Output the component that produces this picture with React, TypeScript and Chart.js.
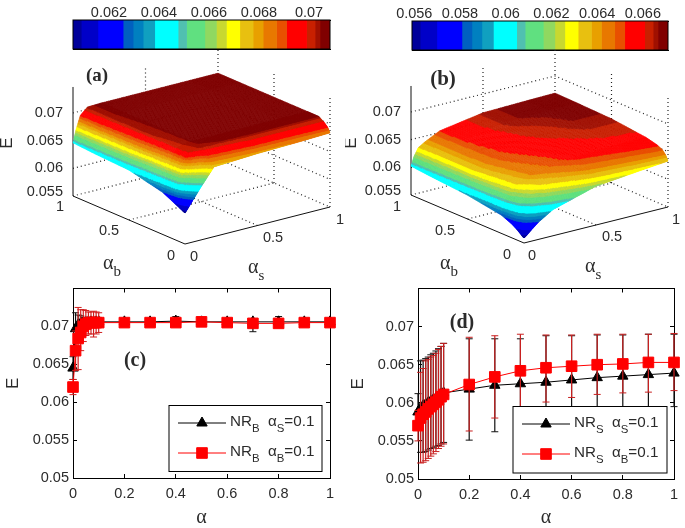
import React, { useEffect, useRef } from "react";
import { Chart, registerables } from "chart.js";
import { drawPoint } from "chart.js/helpers";

Chart.register(...registerables);

const FONT = "'Liberation Sans', Arial, sans-serif";
const SERIF = "'Liberation Serif', serif";
const INK = "#2b2b2b";
const TICK_SIZE = 14.5;

// ---- colour bands shared by both colour bars (top edge as share of the bar, colour)
const bandEnds = [0.032, 0.097, 0.195, 0.234, 0.273, 0.318, 0.409, 0.442, 0.513, 0.558, 0.597, 0.649, 0.701, 0.74, 0.792, 0.831, 0.909, 0.942, 0.961, 1];
const bandColors = ["#00009a", "#0000c8", "#0000ff", "#0060c0", "#0080c0", "#10a0c0", "#00ffff", "#50c0b0", "#60e080", "#90d860", "#c8d830", "#ffff00", "#e8c010", "#e8a000", "#e87800", "#e85000", "#ff0000", "#c82000", "#a01000", "#800000"];

const colorLimitsA = [0.06056, 0.07084];
const colorLimitsB = [0.0559, 0.0671];
const colorTicksA = [0.062, 0.064, 0.066, 0.068, 0.07];
const colorTicksB = [0.056, 0.058, 0.06, 0.062, 0.064, 0.066];

// ---- surfaces: rows are alpha_b nodes, columns are alpha_s nodes
const gridNodes = [0, 0.02, 0.05, 0.1, 0.2, 0.5, 0.8, 1];
const surfaceA = [
  [0.0606, 0.0613, 0.0624, 0.0642, 0.0676, 0.068, 0.0682, 0.0684],
  [0.0608, 0.0617, 0.063, 0.065, 0.068, 0.0688, 0.069, 0.0692],
  [0.0611, 0.0624, 0.0642, 0.0665, 0.069, 0.0698, 0.0698, 0.0698],
  [0.0616, 0.064, 0.067, 0.0699, 0.0704, 0.0705, 0.0705, 0.0705],
  [0.0626, 0.0646, 0.0675, 0.0701, 0.0705, 0.0705, 0.0705, 0.0705],
  [0.064, 0.066, 0.0685, 0.0703, 0.0705, 0.0705, 0.0705, 0.0705],
  [0.0643, 0.0665, 0.069, 0.0704, 0.0705, 0.0705, 0.0705, 0.0705],
  [0.0646, 0.0668, 0.0692, 0.0704, 0.0705, 0.0705, 0.0705, 0.0705],
];
const surfaceB = [
  [0.0559, 0.0563, 0.057, 0.0581, 0.0597, 0.062, 0.0628, 0.0633],
  [0.0562, 0.057, 0.058, 0.0592, 0.0608, 0.063, 0.0638, 0.0642],
  [0.0567, 0.058, 0.0592, 0.0605, 0.0618, 0.0638, 0.0645, 0.0649],
  [0.0574, 0.0592, 0.0607, 0.0618, 0.063, 0.0646, 0.0651, 0.0654],
  [0.0583, 0.0603, 0.062, 0.0632, 0.0642, 0.0654, 0.0658, 0.0659],
  [0.0593, 0.0612, 0.063, 0.064, 0.065, 0.066, 0.0666, 0.0666],
  [0.0598, 0.0616, 0.063, 0.064, 0.0652, 0.0666, 0.0668, 0.0668],
  [0.0602, 0.0618, 0.0632, 0.064, 0.0653, 0.0666, 0.0668, 0.0669],
];
const alphaTicks = [0, 0.5, 1];
const energyTicks3d = [0.055, 0.06, 0.065, 0.07];

// ---- bottom panels
const alphaValues = [0, 0.01, 0.02, 0.03, 0.04, 0.05, 0.06, 0.07, 0.08, 0.09, 0.1, 0.2, 0.3, 0.4, 0.5, 0.6, 0.7, 0.8, 0.9, 1];
const xTicks = [0, 0.2, 0.4, 0.6, 0.8, 1];
const yTicks = [0.05, 0.055, 0.06, 0.065, 0.07];

const cBlack = [0.0645, 0.0697, 0.0702, 0.0704, 0.0705, 0.0705, 0.0706, 0.0706, 0.0706, 0.0706, 0.0706, 0.0706, 0.0706, 0.0707, 0.0706, 0.0706, 0.0706, 0.0706, 0.0706, 0.0706];
const cBlackLow = [0.063, 0.0672, 0.069, 0.0695, 0.07, 0.07, 0.0702, 0.0702, 0.0702, 0.0702, 0.0702, 0.0704, 0.0704, 0.0704, 0.0704, 0.0704, 0.0693, 0.0702, 0.0704, 0.0704];
const cBlackHigh = [0.066, 0.0718, 0.0715, 0.0714, 0.0712, 0.0711, 0.0711, 0.071, 0.071, 0.071, 0.071, 0.0709, 0.0709, 0.0713, 0.0709, 0.0709, 0.0709, 0.0713, 0.0709, 0.0709];
const cRed = [0.062, 0.0668, 0.0684, 0.0692, 0.07, 0.0703, 0.0705, 0.0705, 0.0705, 0.0705, 0.0705, 0.0705, 0.0705, 0.0705, 0.0706, 0.0705, 0.0704, 0.0704, 0.0705, 0.0705];
const cRedLow = [0.061, 0.0642, 0.0643, 0.0668, 0.068, 0.0688, 0.069, 0.069, 0.0686, 0.069, 0.0692, 0.0703, 0.0703, 0.0703, 0.0704, 0.0704, 0.0702, 0.0702, 0.0704, 0.0704];
const cRedHigh = [0.063, 0.0694, 0.0725, 0.0722, 0.0722, 0.0721, 0.0719, 0.0719, 0.072, 0.0719, 0.0718, 0.0708, 0.0707, 0.0707, 0.0708, 0.0707, 0.0706, 0.0706, 0.0706, 0.0706];

const dBlack = [0.0588, 0.0593, 0.0596, 0.0598, 0.06, 0.0602, 0.0604, 0.0606, 0.0608, 0.0611, 0.0613, 0.0618, 0.0623, 0.0625, 0.0627, 0.063, 0.0633, 0.0635, 0.0637, 0.0639];
const dBlackLow = [0.0565, 0.0535, 0.0535, 0.0536, 0.0538, 0.054, 0.0541, 0.0543, 0.0544, 0.0546, 0.0548, 0.0551, 0.0562, 0.0572, 0.0578, 0.0583, 0.0586, 0.059, 0.0592, 0.0595];
const dBlackHigh = [0.0612, 0.0655, 0.0656, 0.0658, 0.066, 0.0663, 0.0665, 0.0668, 0.0671, 0.0674, 0.0678, 0.0684, 0.0684, 0.0684, 0.0688, 0.0688, 0.0689, 0.0689, 0.069, 0.069];
const dRed = [0.057, 0.058, 0.0585, 0.0588, 0.0592, 0.0595, 0.0598, 0.0601, 0.0604, 0.0608, 0.0611, 0.0624, 0.0634, 0.0642, 0.0646, 0.0648, 0.065, 0.0651, 0.0653, 0.0653];
const dRedLow = [0.055, 0.0521, 0.0522, 0.0524, 0.0527, 0.053, 0.0533, 0.0536, 0.054, 0.0543, 0.0546, 0.0563, 0.058, 0.0592, 0.0601, 0.0607, 0.0611, 0.0613, 0.0614, 0.0616];
const dRedHigh = [0.059, 0.064, 0.0645, 0.0655, 0.0657, 0.066, 0.0662, 0.0665, 0.067, 0.0674, 0.0678, 0.0686, 0.0688, 0.069, 0.0689, 0.0689, 0.069, 0.069, 0.069, 0.0691];

type Run = { t: string; sub?: boolean };

function drawRuns(ctx: CanvasRenderingContext2D, runs: Run[], x: number, y: number, size: number, family = FONT) {
  let cx = x;
  ctx.textAlign = "left";
  ctx.textBaseline = "middle";
  ctx.fillStyle = INK;
  for (const r of runs) {
    const s = r.sub ? size * 0.75 : size;
    ctx.font = `${s}px ${family}`;
    ctx.fillText(r.t, cx, r.sub ? y + size * 0.42 : y);
    cx += ctx.measureText(r.t).width;
  }
}

function label(ctx: CanvasRenderingContext2D, text: string, x: number, y: number, font: string, align: CanvasTextAlign = "center", rot = 0) {
  ctx.save();
  ctx.translate(x, y);
  ctx.rotate(rot);
  ctx.font = font;
  ctx.fillStyle = INK;
  ctx.textAlign = align;
  ctx.textBaseline = "middle";
  ctx.fillText(text, 0, 0);
  ctx.restore();
}

function bandColor(e: number, lim: number[]) {
  const f = (e - lim[0]) / (lim[1] - lim[0]);
  for (let i = 0; i < bandEnds.length; i++) if (f <= bandEnds[i]) return bandColors[i];
  return bandColors[bandColors.length - 1];
}

const noOverhang = (s: any) => {
  s.paddingTop = 0;
  s.paddingBottom = 0;
  s.paddingLeft = 0;
  s.paddingRight = 0;
};

function colorBarConfig(lim: number[], ticks: number[], box: { l: number; r: number; t: number; b: number; w: number; h: number }) {
  const edges = [lim[0], ...bandEnds.map((f) => lim[0] + f * (lim[1] - lim[0]))];
  const inward = (pos: "top" | "bottom", showLabels: boolean, size: number) => ({
    type: "linear",
    position: pos,
    min: lim[0],
    max: lim[1],
    afterBuildTicks: (s: any) => { s.ticks = ticks.map((value) => ({ value })); },
    afterFit: (s: any) => { s.height = size; noOverhang(s); },
    border: { display: true, color: "#000", width: 1 },
    grid: { drawOnChartArea: false, drawTicks: true, tickLength: -3, color: "#000" },
    ticks: { display: showLabels, color: INK, font: { family: FONT, size: TICK_SIZE }, padding: 1, maxRotation: 0, callback: (v: any) => String(+(+v).toFixed(3)) },
  });
  return {
    type: "bar",
    data: {
      labels: ["E"],
      datasets: bandColors.map((c, i) => ({
        data: [[edges[i], edges[i + 1]]],
        backgroundColor: c,
        borderWidth: 0,
        grouped: false,
        barPercentage: 1,
        categoryPercentage: 1,
        xAxisID: "x",
      })),
    },
    options: {
      indexAxis: "y",
      animation: false,
      responsive: false,
      devicePixelRatio: 1,
      layout: { padding: { left: box.l, right: box.w - box.r, top: 0, bottom: box.h - box.b } },
      plugins: { legend: { display: false }, tooltip: { enabled: false } },
      scales: {
        x: inward("top", true, box.t),
        x2: inward("bottom", false, 0),
        y: { display: false },
      },
    },
    plugins: [
      {
        id: "barFrame",
        afterDraw(chart: any) {
          const a = chart.chartArea;
          chart.ctx.strokeStyle = "#000";
          chart.ctx.lineWidth = 1;
          chart.ctx.strokeRect(a.left, a.top, a.right - a.left, a.bottom - a.top);
        },
      },
    ],
  };
}

type Frame = {
  origin: number[];
  sVec: number[];
  bVec: number[];
  zScale: number;
  zMin: number;
  zMax: number;
  left: number;
  top: number;
  w: number;
  h: number;
  table: number[][];
  lim: number[];
  tag: string;
  tagPos: number[];
  tagSize: number;
  ePos: number[];
  alphaBPos: number[];
  alphaSPos: number[];
  sLabels: number[][];
  bLabels: number[][];
  zLabelX: number;
};

function surfaceConfig(f: Frame) {
  const project = (s: number, b: number, e: number) => ({
    x: f.origin[0] + s * f.sVec[0] + b * f.bVec[0],
    y: f.origin[1] + s * f.sVec[1] + b * f.bVec[1] - (e - f.zMin) * f.zScale,
  });
  const dotted = (pts: number[][]) => ({
    data: pts.map((p) => project(p[0], p[1], p[2])),
    showLine: true,
    borderColor: "#222",
    borderWidth: 1.2,
    borderDash: [1, 3],
    pointRadius: 0,
    clip: false,
  });
  const solid = (pts: number[][]) => ({ ...dotted(pts), borderDash: [], borderWidth: 1, borderColor: "#111" });
  const { zMin, zMax } = f;
  const lines: any[] = [];
  for (const e of energyTicks3d) {
    lines.push(dotted([[0, 1, e], [1, 1, e], [1, 0, e]]));
  }
  lines.push(dotted([[1, 1, zMin], [1, 1, zMax]]));
  lines.push(dotted([[0.5, 1, zMin], [0.5, 1, zMax]]));
  lines.push(dotted([[1, 0.5, zMin], [1, 0.5, zMax]]));
  lines.push(dotted([[1, 0, zMin], [1, 0, zMax]]));
  lines.push(dotted([[0.5, 0, zMin], [0.5, 1, zMin]]));
  lines.push(dotted([[0, 0.5, zMin], [1, 0.5, zMin]]));
  lines.push(solid([[0, 0, zMin], [1, 0, zMin]]));
  lines.push(solid([[0, 0, zMin], [0, 1, zMin]]));
  lines.push(solid([[0, 1, zMin], [0, 1, zMax]]));
  const nodes: { x: number; y: number }[] = [];
  f.table.forEach((row, j) => row.forEach((e, i) => nodes.push(project(gridNodes[i], gridNodes[j], e))));
  lines.push({ data: nodes, pointRadius: 0, showLine: false, label: "surface" });

  const surfacePlugin = {
    id: "surface3d",
    afterDatasetsDraw(chart: any) {
      const { ctx } = chart;
      const X = chart.scales.x;
      const Y = chart.scales.y;
      const px = (s: number, b: number, e: number) => {
        const p = project(s, b, e);
        return [X.getPixelForValue(p.x), Y.getPixelForValue(p.y)];
      };
      const cuts = 20;
      ctx.save();
      for (let j = gridNodes.length - 2; j >= 0; j--) {
        for (let i = gridNodes.length - 2; i >= 0; i--) {
          const e00 = f.table[j][i];
          const e10 = f.table[j][i + 1];
          const e01 = f.table[j + 1][i];
          const e11 = f.table[j + 1][i + 1];
          const at = (u: number, v: number) => e00 * (1 - u) * (1 - v) + e10 * u * (1 - v) + e01 * (1 - u) * v + e11 * u * v;
          const sAt = (u: number) => gridNodes[i] + u * (gridNodes[i + 1] - gridNodes[i]);
          const bAt = (v: number) => gridNodes[j] + v * (gridNodes[j + 1] - gridNodes[j]);
          for (let m = cuts - 1; m >= 0; m--) {
            for (let n = cuts - 1; n >= 0; n--) {
              const u0 = n / cuts, u1 = (n + 1) / cuts, v0 = m / cuts, v1 = (m + 1) / cuts;
              const corners = [
                px(sAt(u0), bAt(v0), at(u0, v0)),
                px(sAt(u1), bAt(v0), at(u1, v0)),
                px(sAt(u1), bAt(v1), at(u1, v1)),
                px(sAt(u0), bAt(v1), at(u0, v1)),
              ];
              const col = bandColor(at((u0 + u1) / 2, (v0 + v1) / 2), f.lim);
              ctx.beginPath();
              corners.forEach((c, k) => (k ? ctx.lineTo(c[0], c[1]) : ctx.moveTo(c[0], c[1])));
              ctx.closePath();
              ctx.fillStyle = col;
              ctx.strokeStyle = col;
              ctx.lineWidth = 0.5;
              ctx.fill();
              ctx.stroke();
            }
          }
        }
      }
      ctx.restore();
    },
    afterDraw(chart: any) {
      const { ctx } = chart;
      const X = chart.scales.x;
      const Y = chart.scales.y;
      const gx = (v: number) => X.getPixelForValue(v);
      const gy = (v: number) => Y.getPixelForValue(v);
      const tick = `${TICK_SIZE}px ${FONT}`;
      for (const e of energyTicks3d) {
        const p = project(0, 1, e);
        label(ctx, String(e), gx(f.zLabelX), gy(p.y - (e === zMin ? 4 : 0)), tick, "right");
      }
      alphaTicks.forEach((a, i) => {
        label(ctx, String(a), gx(f.sLabels[i][0]), gy(f.sLabels[i][1]), tick);
        label(ctx, String(a), gx(f.bLabels[i][0]), gy(f.bLabels[i][1]), tick);
      });
      label(ctx, "E", gx(f.ePos[0]), gy(f.ePos[1]), `17px ${FONT}`, "center", -Math.PI / 2);
      drawRuns(ctx, [{ t: "α" }, { t: "b", sub: true }], gx(f.alphaBPos[0]), gy(f.alphaBPos[1]), 20, SERIF);
      drawRuns(ctx, [{ t: "α" }, { t: "s", sub: true }], gx(f.alphaSPos[0]), gy(f.alphaSPos[1]), 20, SERIF);
      label(ctx, f.tag, gx(f.tagPos[0]), gy(f.tagPos[1]), `bold ${f.tagSize}px ${SERIF}`);
    },
  };

  return {
    type: "scatter",
    data: { datasets: lines },
    options: {
      animation: false,
      responsive: false,
      devicePixelRatio: 1,
      layout: { padding: 0 },
      plugins: { legend: { display: false }, tooltip: { enabled: false } },
      scales: {
        x: { type: "linear", display: false, min: f.left, max: f.left + f.w },
        y: { type: "linear", display: false, reverse: true, min: f.top, max: f.top + f.h },
      },
    },
    plugins: [surfacePlugin],
  };
}

type Series = { mean: number[]; low: number[]; high: number[]; line: string; whisker: string; marker: string; style: string; radius: number; name: Run[] };

function seriesSets(s: Series, order: number) {
  const whisker: any[] = [];
  alphaValues.forEach((x, i) => {
    whisker.push({ x, y: s.low[i] }, { x, y: s.high[i] }, { x, y: null });
  });
  return [
    {
      label: "error",
      data: whisker,
      showLine: true,
      spanGaps: false,
      borderColor: s.whisker,
      borderWidth: 1.2,
      pointStyle: "line",
      pointRadius: 3.5,
      pointBorderColor: s.whisker,
      pointBorderWidth: 1,
      clip: false,
      order: order + 1,
    },
    {
      label: "mean",
      data: alphaValues.map((x, i) => ({ x, y: s.mean[i] })),
      showLine: true,
      borderColor: s.line,
      borderWidth: 1,
      pointStyle: s.style,
      pointRadius: s.radius,
      pointBackgroundColor: s.marker,
      pointBorderColor: s.marker,
      pointBorderWidth: 1,
      clip: false,
      order,
    },
  ];
}

function lineConfig(box: { w: number; h: number; l: number; r: number; t: number; b: number }, series: Series[], tag: string, tagPos: number[], legendBox: number[]) {
  const inward = {
    border: { display: true, color: "#000", width: 1 },
    grid: { drawOnChartArea: false, drawTicks: true, tickLength: -4, color: "#000" },
  };
  const fmt = (v: any) => String(+(+v).toFixed(3));
  return {
    type: "scatter",
    data: { datasets: [...seriesSets(series[0], 3), ...seriesSets(series[1], 1)] },
    options: {
      animation: false,
      responsive: false,
      devicePixelRatio: 1,
      layout: { padding: { left: 0, right: box.w - box.r, top: box.t, bottom: 0 } },
      plugins: { legend: { display: false }, tooltip: { enabled: false } },
      scales: {
        x: {
          ...inward,
          type: "linear",
          position: "bottom",
          min: 0,
          max: 1,
          afterBuildTicks: (s: any) => { s.ticks = xTicks.map((value) => ({ value })); },
          afterFit: (s: any) => { s.height = box.h - box.b; noOverhang(s); },
          ticks: { color: INK, font: { family: FONT, size: TICK_SIZE }, padding: 11, maxRotation: 0, callback: fmt },
          title: { display: true, text: "α", color: INK, font: { family: SERIF, size: 20 }, padding: { top: 0, bottom: -2 } },
        },
        x2: {
          ...inward,
          type: "linear",
          position: "top",
          min: 0,
          max: 1,
          afterBuildTicks: (s: any) => { s.ticks = xTicks.map((value) => ({ value })); },
          afterFit: (s: any) => { s.height = 0; noOverhang(s); },
          ticks: { display: false },
        },
        y: {
          ...inward,
          type: "linear",
          position: "left",
          min: 0.05,
          max: 0.075,
          afterBuildTicks: (s: any) => { s.ticks = yTicks.map((value) => ({ value })); },
          afterFit: (s: any) => { s.width = box.l; noOverhang(s); },
          ticks: { color: INK, font: { family: FONT, size: TICK_SIZE }, padding: 8, callback: fmt },
          title: { display: true, text: "E", color: INK, font: { family: FONT, size: 17 }, padding: { top: 3, bottom: 0 } },
        },
        y2: {
          ...inward,
          type: "linear",
          position: "right",
          min: 0.05,
          max: 0.075,
          afterBuildTicks: (s: any) => { s.ticks = yTicks.map((value) => ({ value })); },
          afterFit: (s: any) => { s.width = 0; noOverhang(s); },
          ticks: { display: false },
        },
      },
    },
    plugins: [
      {
        id: "figureLegend",
        afterDraw(chart: any) {
          const { ctx } = chart;
          const [x0, y0, x1, y1] = legendBox;
          ctx.save();
          ctx.fillStyle = "#fff";
          ctx.fillRect(x0, y0, x1 - x0, y1 - y0);
          ctx.strokeStyle = "#000";
          ctx.lineWidth = 1;
          ctx.strokeRect(x0, y0, x1 - x0, y1 - y0);
          series.forEach((s, i) => {
            const yy = y0 + 17.5 + i * 30;
            ctx.beginPath();
            ctx.moveTo(x0 + 9, yy);
            ctx.lineTo(x0 + 57, yy);
            ctx.strokeStyle = s.line;
            ctx.lineWidth = 1;
            ctx.stroke();
            ctx.fillStyle = s.marker;
            ctx.strokeStyle = s.marker;
            drawPoint(ctx, { pointStyle: s.style, radius: s.radius, rotation: 0, borderWidth: 1 } as any, x0 + 33, yy);
            drawRuns(ctx, s.name, x0 + 61, yy - 1, 15.2);
          });
          ctx.restore();
          label(ctx, tag, tagPos[0], tagPos[1], `bold 20px ${SERIF}`);
        },
      },
    ],
  };
}

const RED = "#ff0000";
const nameRuns = (a: string, b: string): Run[] => [
  { t: "NR" }, { t: a, sub: true }, { t: "  α" }, { t: b, sub: true }, { t: "=0.1" },
];

const panels = [
  { left: 0, top: 0, w: 345, h: 55, make: () => colorBarConfig(colorLimitsA, colorTicksA, { l: 73, r: 330, t: 20, b: 49, w: 345, h: 55 }) },
  { left: 345, top: 0, w: 340, h: 55, make: () => colorBarConfig(colorLimitsB, colorTicksB, { l: 67, r: 323, t: 21, b: 50, w: 340, h: 55 }) },
  {
    left: 0, top: 50, w: 345, h: 230,
    make: () => surfaceConfig({
      origin: [185, 244], sVec: [145, -37], bVec: [-112, -48], zScale: 5534, zMin: 0.055, zMax: 0.0747,
      left: 0, top: 50, w: 345, h: 230, table: surfaceA, lim: colorLimitsA,
      tag: "(a)", tagPos: [97, 76], tagSize: 19, ePos: [7, 143], alphaBPos: [103, 264], alphaSPos: [248, 268],
      sLabels: [[194, 257], [273, 238], [340, 220]], bLabels: [[171, 256], [109, 231], [60, 207]], zLabelX: 63,
    }),
  },
  {
    left: 345, top: 50, w: 340, h: 230,
    make: () => surfaceConfig({
      origin: [524, 243], sVec: [144, -36], bVec: [-113, -48], zScale: 5534, zMin: 0.055, zMax: 0.0747,
      left: 345, top: 50, w: 340, h: 230, table: surfaceB, lim: colorLimitsB,
      tag: "(b)", tagPos: [443, 80], tagSize: 21, ePos: [351, 143], alphaBPos: [440, 264], alphaSPos: [585, 267],
      sLabels: [[532, 256], [612, 237], [676, 220]], bLabels: [[507, 255], [445, 231], [397, 207]], zLabelX: 401,
    }),
  },
  {
    left: 0, top: 280, w: 345, h: 248,
    make: () => lineConfig({ w: 345, h: 248, l: 73, r: 330, t: 8, b: 198 }, [
      { mean: cBlack, low: cBlackLow, high: cBlackHigh, line: "#000", whisker: "#111", marker: "#000", style: "triangle", radius: 6, name: nameRuns("B", "S") },
      { mean: cRed, low: cRedLow, high: cRedHigh, line: RED, whisker: "#d02020", marker: RED, style: "rect", radius: 7.5, name: nameRuns("B", "B") },
    ], "(c)", [135, 81], [169, 125.5, 322, 191.5]),
  },
  {
    left: 345, top: 280, w: 340, h: 248,
    make: () => lineConfig({ w: 340, h: 248, l: 73, r: 329, t: 8, b: 199 }, [
      { mean: dBlack, low: dBlackLow, high: dBlackHigh, line: "#000", whisker: "#111", marker: "#000", style: "triangle", radius: 6, name: nameRuns("S", "S") },
      { mean: dRed, low: dRedLow, high: dRedHigh, line: RED, whisker: "#c82020", marker: RED, style: "rect", radius: 7.5, name: nameRuns("S", "B") },
    ], "(d)", [117, 43], [168, 126.5, 322, 193]),
  },
];

function Panel({ p }: { p: (typeof panels)[number] }) {
  const ref = useRef<HTMLCanvasElement>(null);
  useEffect(() => {
    if (!ref.current) return;
    const chart = new Chart(ref.current, p.make() as any);
    return () => chart.destroy();
  }, [p]);
  return (
    <canvas
      ref={ref}
      width={p.w}
      height={p.h}
      style={{ position: "absolute", left: p.left, top: p.top, width: p.w, height: p.h, display: "block" }}
    />
  );
}

export default function App() {
  return (
    <div style={{ position: "absolute", left: 0, top: 0, width: 685, height: 528, background: "#fff", overflow: "hidden", filter: "blur(0.4px)" }}>
      {panels.map((p, i) => (
        <Panel key={i} p={p} />
      ))}
    </div>
  );
}
